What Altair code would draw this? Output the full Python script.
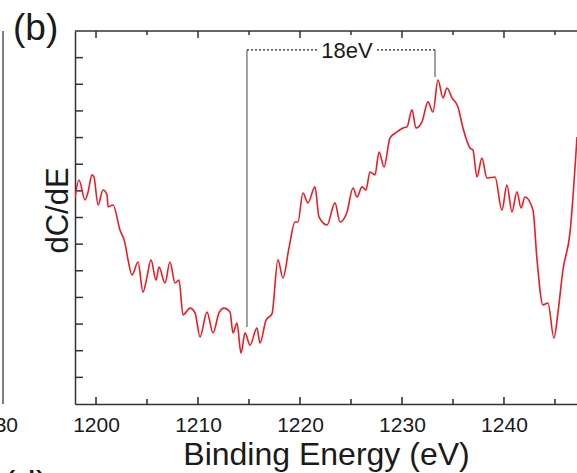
import altair as alt
import pandas as pd

# Spectrum
energy = [1197.94, 1198.33, 1198.92, 1199.22, 1199.61, 1199.80, 1200.20, 1200.69, 1201.08, 1201.18,
          1201.67, 1202.35, 1202.84, 1203.14, 1203.53, 1204.12, 1204.61, 1205.00, 1205.39, 1205.88,
          1206.18, 1206.76, 1207.25, 1207.75, 1208.14, 1208.53, 1209.22, 1209.71, 1210.20, 1210.88,
          1211.47, 1212.06, 1212.55, 1213.14, 1213.43, 1213.82, 1214.22, 1214.61, 1215.10, 1215.78,
          1216.08, 1216.67, 1217.25, 1217.84, 1218.33, 1218.92, 1219.51, 1219.80, 1220.29, 1220.78,
          1221.47, 1221.86, 1222.65, 1223.43, 1223.92, 1224.61, 1225.20, 1225.59, 1226.08, 1226.47,
          1226.86, 1227.35, 1227.75, 1228.24, 1228.82, 1229.51, 1230.10, 1230.49, 1230.98, 1231.37,
          1231.96, 1232.55, 1233.04, 1233.53, 1234.02, 1234.41, 1234.90, 1235.49, 1235.98, 1236.67,
          1236.96, 1237.35, 1237.84, 1238.33, 1239.12, 1239.80, 1240.29, 1240.78, 1241.27, 1241.67,
          1242.06, 1242.84, 1243.24, 1243.82, 1244.31, 1244.90, 1245.29, 1245.78, 1246.47, 1247.16]
dcde = [7.73, 8.41, 7.66, 7.96, 8.60, 8.52, 7.47, 8.03, 7.85, 7.40,
        7.47, 6.53, 6.04, 5.41, 4.84, 5.33, 4.20, 4.77, 5.41, 4.65,
        5.14, 4.54, 5.33, 4.54, 4.65, 3.34, 3.60, 3.42, 2.52, 3.45,
        2.67, 3.42, 3.60, 3.45, 2.67, 3.04, 1.91, 2.67, 2.21, 2.85,
        2.29, 3.15, 3.38, 5.41, 4.73, 5.86, 6.83, 6.83, 7.92, 7.55,
        8.15, 7.02, 6.72, 7.55, 6.83, 7.21, 8.11, 7.77, 8.15, 8.03,
        8.71, 8.60, 9.46, 8.90, 9.98, 10.21, 10.36, 10.40, 11.04, 10.36,
        10.59, 11.34, 10.96, 12.16, 11.49, 11.86, 11.49, 11.15, 10.36, 9.61,
        9.53, 8.52, 9.23, 8.48, 8.52, 7.28, 8.22, 7.21, 7.96, 7.36,
        7.77, 7.28, 5.41, 3.72, 3.79, 2.48, 3.42, 5.03, 6.42, 10.02]

x_domain = [1197.94, 1247.16]
y_domain = [0, 14]
x_labels = [1200, 1210, 1220, 1230, 1240]
x_major = [1200, 1210, 1220, 1230, 1240]
x_minor = [1205, 1215, 1225, 1235, 1245]
y_ticks = [1, 2, 3, 4, 5, 6, 7, 8, 9, 10, 11, 12, 13]

# annotation (18 eV between feature at ~1214.8 and peak at ~1233.2)
ann_left_e = 1214.8
ann_right_e = 1233.24
ann_top = 13.29
ann_left_bottom = 2.89
ann_right_bottom = 12.27
gap_left_e = 1221.76
gap_right_e = 1227.55
ann_text_e = 1224.6
ann_text_v = 12.99

W, H = 502, 373
FONT = "Liberation Sans"
INK = "#1a1a1a"
FRAME = "#333333"

xs = alt.Scale(domain=x_domain, nice=False, zero=False)
ys = alt.Scale(domain=y_domain, nice=False, zero=False)

spec = pd.DataFrame({"E": energy, "V": dcde})

line = alt.Chart(spec).mark_line(color="#ec1c24", strokeWidth=1.6, clip=True,
                                 interpolate="monotone").encode(
    x=alt.X("E:Q", scale=xs,
            axis=alt.Axis(values=x_labels, format="d", ticks=False, tickSize=0, grid=False,
                          labelFont=FONT, labelFontSize=21, labelColor=INK, labelPadding=10,
                          labelFlush=False, domainColor=FRAME, domainWidth=1.5,
                          title="Binding Energy (eV)", titleFont=FONT, titleFontSize=32,
                          titleFontWeight="normal", titleColor=INK, titleX=251, titleY=60,
                          titleBaseline="alphabetic", titleAlign="center")),
    y=alt.Y("V:Q", scale=ys,
            axis=alt.Axis(labels=False, ticks=False, tickSize=0, grid=False,
                          domainColor=FRAME, domainWidth=1.5,
                          title="dC/dE", titleFont=FONT, titleFontSize=31,
                          titleFontWeight="normal", titleColor=INK, titleX=-8, titleY=179,
                          titleBaseline="alphabetic", titleAlign="center", titleAngle=270)),
)

# frame top line
top_line = alt.Chart(pd.DataFrame({"a": [0]})).mark_rule(color=FRAME, strokeWidth=1.5).encode(
    x=alt.value(0), x2=alt.value(W), y=alt.value(0))

# tick marks (inward)
bot_major = alt.Chart(pd.DataFrame({"E": x_major})).mark_rule(color=FRAME, strokeWidth=1.6).encode(
    x=alt.X("E:Q", scale=xs), y=alt.value(H - 7), y2=alt.value(H))
bot_minor = alt.Chart(pd.DataFrame({"E": x_minor})).mark_rule(color=FRAME, strokeWidth=1.6).encode(
    x=alt.X("E:Q", scale=xs), y=alt.value(H - 5), y2=alt.value(H))
top_major = alt.Chart(pd.DataFrame({"E": x_major})).mark_rule(color=FRAME, strokeWidth=1.5).encode(
    x=alt.X("E:Q", scale=xs), y=alt.value(0), y2=alt.value(7))
top_minor = alt.Chart(pd.DataFrame({"E": x_minor})).mark_rule(color=FRAME, strokeWidth=1.5).encode(
    x=alt.X("E:Q", scale=xs), y=alt.value(0), y2=alt.value(4))
left_ticks = alt.Chart(pd.DataFrame({"V": y_ticks})).mark_rule(color=FRAME, strokeWidth=1.5).encode(
    y=alt.Y("V:Q", scale=ys), x=alt.value(0), x2=alt.value(8))

# annotation
vlines = alt.Chart(pd.DataFrame({
    "E": [ann_left_e, ann_right_e],
    "top": [ann_top, ann_top],
    "bot": [ann_left_bottom, ann_right_bottom],
})).mark_rule(color="#8a8a8a", strokeWidth=1.6).encode(
    x=alt.X("E:Q", scale=xs), y=alt.Y("top:Q", scale=ys), y2="bot:Q")
hdots = alt.Chart(pd.DataFrame({
    "E1": [ann_left_e, gap_right_e],
    "E2": [gap_left_e, ann_right_e],
    "v": [ann_top, ann_top],
})).mark_rule(color="#222222", strokeWidth=1.2, strokeDash=[2, 2]).encode(
    x=alt.X("E1:Q", scale=xs), x2="E2:Q", y=alt.Y("v:Q", scale=ys))
ann_text = alt.Chart(pd.DataFrame({"E": [ann_text_e], "v": [ann_text_v], "t": ["18eV"]})).mark_text(
    font=FONT, fontSize=22, color=INK, align="center", baseline="alphabetic").encode(
    x=alt.X("E:Q", scale=xs), y=alt.Y("v:Q", scale=ys), text="t:N")

# panel label and fragments of neighbouring panels
panel_b = alt.Chart(pd.DataFrame({"t": ["(b)"]})).mark_text(
    font=FONT, fontSize=37, color=INK, align="left", baseline="alphabetic").encode(
    x=alt.value(-62), y=alt.value(9), text="t:N")
frag_line = alt.Chart(pd.DataFrame({"a": [0]})).mark_rule(color="#555555", strokeWidth=1.5).encode(
    x=alt.value(-72), y=alt.value(0), y2=alt.value(H))
frag_label = alt.Chart(pd.DataFrame({"t": ["30"]})).mark_text(
    font=FONT, fontSize=21, color=INK, align="right", baseline="alphabetic").encode(
    x=alt.value(-57), y=alt.value(401), text="t:N")
frag_d = alt.Chart(pd.DataFrame({"t": ["(d)"]})).mark_text(
    font=FONT, fontSize=37, color=INK, align="left", baseline="alphabetic").encode(
    x=alt.value(-72), y=alt.value(466), text="t:N")

chart = alt.layer(
    top_line, bot_major, bot_minor, top_major, top_minor, left_ticks,
    vlines, hdots, ann_text, line, panel_b, frag_line, frag_label, frag_d
).properties(
    width=W, height=H,
    autosize=alt.AutoSizeParams(type="none"),
    padding={"left": 75, "top": 31, "right": 0, "bottom": 69},
    background="white",
).configure_view(stroke=None)

chart.save("out.html", embed_options={"renderer": "svg", "actions": False})
